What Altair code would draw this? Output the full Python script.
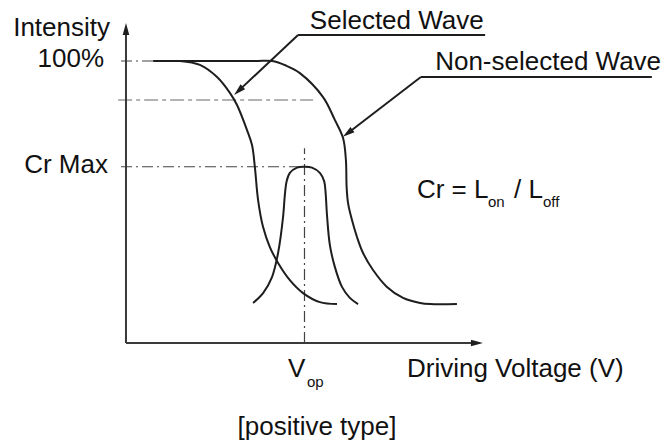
import altair as alt
import pandas as pd

# ---- data (voltage in arbitrary units, intensity in %) ----
sel_v = [15.1, 20.7, 25.5, 29.1, 31.1, 33.9, 35.3, 36.1, 37.0, 38.4, 40.3, 42.6, 45.9, 49.6, 54.3, 59.1]
sel_i = [100, 98.6, 94.3, 88.7, 84.4, 75.5, 70.2, 62.4, 50.7, 41.1, 34.0, 28.4, 22.3, 17.7, 14.5, 13.8]
non_v = [7.6, 36.1, 40.9, 44.8, 48.7, 55.2, 58.5, 60.8, 61.6, 61.8, 62.2, 63.3, 64.7, 66.4, 69.2, 73.1,
         77.6, 82.4, 85.2, 92.7]
non_i = [100, 100, 100, 98.4, 95.7, 87.2, 79.1, 72.7, 64.9, 55.3, 49.6, 43.6, 37.6, 31.9, 25.9, 19.9,
         16.0, 14.2, 13.8, 13.8]
cr_v = [35.6, 38.4, 40.9, 42.6, 44.0, 44.5, 45.0, 45.9, 47.9, 50.0, 52.1, 54.3, 55.5, 55.9, 56.3, 57.1,
        58.5, 60.5, 62.7, 65.0]
cr_i = [14.2, 17.7, 23.4, 31.9, 44.7, 52.5, 57.4, 60.3, 62.2, 62.5, 62.2, 60.3, 57.4, 53.5, 45.4, 34.8,
        27.0, 19.9, 16.0, 13.8]

V_OP = 50.0
CR_MAX = 62.5
FULL = 100
GUIDE = 86.2

label_text = ["Intensity", "100%", "Cr Max", "Selected Wave", "Non-selected Wave",
              "Cr = L", "on", "/ L", "off", "V", "op", "Driving Voltage (V)", "[positive type]"]

# ---- tables built from the arrays ----
rows = []
for name, vs, ins in [("selected", sel_v, sel_i), ("non", non_v, non_i), ("cr", cr_v, cr_i)]:
    for k, (v, i) in enumerate(zip(vs, ins)):
        rows.append({"series": name, "order": k, "v": v, "i": i})
curves = pd.DataFrame(rows)

axis_segs = pd.DataFrame([
    {"v": 0, "i": 0, "v2": 0, "i2": 111},          # y axis
    {"v": 0, "i": 0, "v2": 98, "i2": 0},           # x axis
])
ann_segs = pd.DataFrame([
    {"v": 48.2, "i": 109.2, "v2": 100.6, "i2": 109.2},  # selected underline
    {"v": 48.2, "i": 109.2, "v2": 31.5, "i2": 89.4},    # selected leader
    {"v": 82.6, "i": 94.3, "v2": 147.3, "i2": 94.3},    # non-selected underline
    {"v": 82.6, "i": 94.3, "v2": 62.1, "i2": 74.4},     # non-selected leader
])

dash_segs = pd.DataFrame([
    {"v": -1.4, "i": FULL, "v2": 7.6, "i2": FULL},
    {"v": -1.4, "i": CR_MAX, "v2": V_OP, "i2": CR_MAX},
    {"v": V_OP, "i": 0, "v2": V_OP, "i2": 69.1},
])
gray_segs = pd.DataFrame([{"v": -2.2, "i": GUIDE, "v2": 52.4, "i2": GUIDE}])

arrows = pd.DataFrame([
    {"v": 0, "i": 111.3, "angle": 0},
    {"v": 98.3, "i": 0, "angle": 90},
    {"v": 31.5, "i": 89.4, "angle": 226.8},
    {"v": 62.1, "i": 74.4, "angle": 232.4},
])

lab_v = [-4.48, -6.16, -5.04, 51.5, 86.6, 81.5, 101.4, 108.7, 116.8, 45.4, 50.7, 78.7, 53.5]
lab_i = [108.9, 97.9, 60.3, 111.3, 96.8, 51.4, 48.2, 51.4, 48.2, -12.1, -15.6, -12.1, -32.6]
lab_align = ["right", "right", "right", "left", "left", "left", "left", "left", "left",
             "left", "left", "left", "center"]
lab_size = [26, 26, 26, 26, 26, 26, 15, 26, 15, 26, 15, 26, 26]
labels = pd.DataFrame({"text": label_text, "v": lab_v, "i": lab_i,
                       "align": lab_align, "size": lab_size})

# ---- scales ----
xs = alt.Scale(domain=[-33.05, 150.14], zero=False, nice=False)
ys = alt.Scale(domain=[-35.1, 118.79], zero=False, nice=False)
X = lambda f: alt.X(f, type="quantitative", scale=xs, axis=None)
Y = lambda f: alt.Y(f, type="quantitative", scale=ys, axis=None)

curve_layer = alt.Chart(curves).mark_line(
    color="#1e1e1e", strokeWidth=2, interpolate="catmull-rom"
).encode(x=X("v"), y=Y("i"), detail="series:N", order="order:Q")

axis_layer = alt.Chart(axis_segs).mark_rule(color="#3a3a3a", strokeWidth=2).encode(
    x=X("v"), y=Y("i"), x2="v2:Q", y2="i2:Q")
ann_layer = alt.Chart(ann_segs).mark_rule(color="#1e1e1e", strokeWidth=2).encode(
    x=X("v"), y=Y("i"), x2="v2:Q", y2="i2:Q")
dash_layer = alt.Chart(dash_segs).mark_rule(
    color="#444444", strokeWidth=1.2, strokeDash=[11, 4, 2, 4]).encode(
    x=X("v"), y=Y("i"), x2="v2:Q", y2="i2:Q")
gray_layer = alt.Chart(gray_segs).mark_rule(
    color="#9a9a9a", strokeWidth=1.5, strokeDash=[14, 4, 4, 4]).encode(
    x=X("v"), y=Y("i"), x2="v2:Q", y2="i2:Q")

arrow_layer = alt.Chart(arrows).mark_point(
    shape="M0,-1L0.55,1L-0.55,1Z", filled=True, fill="#1e1e1e", opacity=1,
    size=144, strokeWidth=0).encode(
    x=X("v"), y=Y("i"), angle=alt.Angle("angle:Q", scale=None))

text_layers = []
for al in ["left", "right", "center"]:
    sub = labels[labels["align"] == al]
    text_layers.append(
        alt.Chart(sub).mark_text(
            align=al, baseline="alphabetic", font="Liberation Sans", color="#111111"
        ).encode(x=X("v"), y=Y("i"), text="text:N",
                 size=alt.Size("size:Q", scale=None, legend=None))
    )

chart = alt.layer(
    gray_layer, dash_layer, axis_layer, curve_layer, ann_layer, arrow_layer, *text_layers
).properties(
    width=654, height=434, padding=0, autosize=alt.AutoSizeParams(type="none"),
    background="white"
).configure_view(strokeWidth=0)

chart.save("out.html", embed_options={"renderer": "svg", "actions": False})
